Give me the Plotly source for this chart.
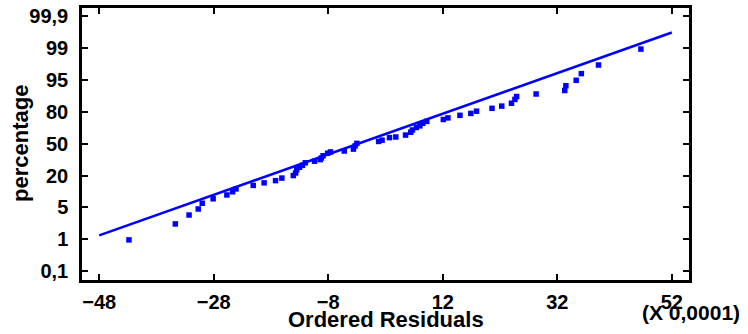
import plotly.graph_objects as go

# Ordered residuals (x 0.0001)
residuals = [-42.8, -34.7, -32.3, -30.7, -30.0, -28.1, -25.7, -24.7, -24.1, -21.1,
             -19.2, -17.2, -16.1, -14.1, -13.7, -13.5, -13.0, -12.5, -12.0, -10.4,
             -9.4, -9.2, -8.9, -8.1, -7.6, -5.2, -3.6, -3.3, -3.0, 0.8,
             1.4, 2.7, 3.8, 5.5, 6.4, 6.7, 7.4, 8.0, 8.5, 9.2,
             12.1, 12.9, 15.0, 16.9, 17.9, 20.6, 22.3, 24.0, 24.6, 24.9,
             28.3, 33.3, 33.5, 35.3, 36.2, 39.2, 46.6]
# Vertical position on the probability scale (tick-index units: 0 = 0,1% ... 8 = 99,9%)
prob_pos = [0.98, 1.48, 1.76, 1.95, 2.13, 2.27, 2.39, 2.49, 2.58, 2.69,
            2.77, 2.84, 2.92, 3.00, 3.08, 3.18, 3.26, 3.32, 3.40, 3.45,
            3.50, 3.55, 3.62, 3.70, 3.74, 3.77, 3.83, 3.93, 4.01, 4.07,
            4.11, 4.19, 4.21, 4.27, 4.36, 4.43, 4.51, 4.56, 4.64, 4.70,
            4.76, 4.81, 4.89, 4.95, 5.02, 5.11, 5.18, 5.27, 5.39, 5.48,
            5.56, 5.67, 5.82, 5.99, 6.20, 6.47, 6.97]

# Reference line
line_x = [-48, 52]
line_y = [1.12, 7.49]

x_ticks = [-48, -28, -8, 12, 32, 52]
y_tickvals = [0, 1, 2, 3, 4, 5, 6, 7, 8]
y_ticktext = ["0,1", "1", "5", "20", "50", "80", "95", "99", "99,9"]

blue = "rgb(0,0,255)"
font_family = "Liberation Sans, Arial, sans-serif"

fig = go.Figure()
fig.add_trace(go.Scatter(x=line_x, y=line_y, mode="lines",
                         line=dict(color=blue, width=2.5), hoverinfo="skip"))
fig.add_trace(go.Scatter(x=residuals, y=prob_pos, mode="markers",
                         marker=dict(color=blue, size=5.5, symbol="square",
                                     line=dict(width=0))))

axis_common = dict(showgrid=False, zeroline=False, showline=True, linecolor="black",
                   linewidth=2.5, mirror="ticks", ticks="inside", ticklen=6,
                   tickwidth=2, tickcolor="black",
                   tickfont=dict(family=font_family, size=20, color="black", weight="bold"))

fig.update_xaxes(range=[-51, 55], tickvals=x_ticks, ticklabelstandoff=2, **axis_common)
fig.update_yaxes(range=[-0.28, 8.26], tickvals=y_tickvals, ticktext=y_ticktext,
                 ticklabelstandoff=7, **axis_common)

fig.update_layout(
    width=748, height=334,
    margin=dict(l=82, r=59, t=5, b=54),
    paper_bgcolor="white", plot_bgcolor="white",
    showlegend=False,
    annotations=[
        dict(text="Ordered Residuals", xref="paper", yref="paper", x=0.5, y=0,
             yanchor="middle", xanchor="center", yshift=-39, showarrow=False,
             font=dict(family=font_family, size=22, color="black", weight="bold")),
        dict(text="(X 0,0001)", xref="paper", yref="paper", x=1.0, y=0,
             yanchor="middle", xanchor="center", xshift=2, yshift=-32, showarrow=False,
             font=dict(family=font_family, size=21, color="black", weight="bold")),
        dict(text="percentage", xref="paper", yref="paper", x=0, y=0.5,
             xanchor="center", yanchor="middle", xshift=-62, textangle=-90,
             showarrow=False,
             font=dict(family=font_family, size=22, color="black", weight="bold")),
    ],
)

fig.write_html("out.html")
